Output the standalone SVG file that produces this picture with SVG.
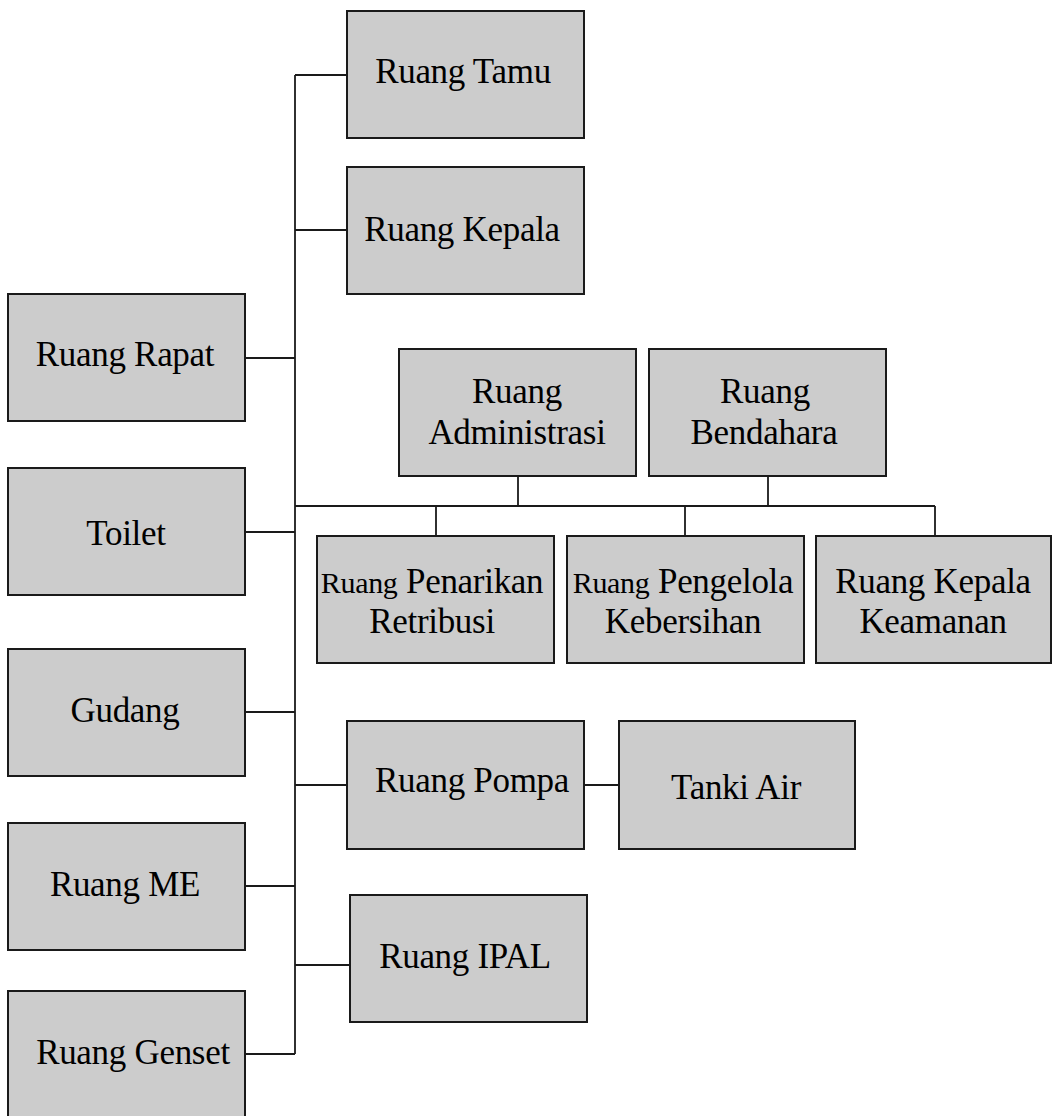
<svg xmlns="http://www.w3.org/2000/svg" width="1052" height="1116" viewBox="0 0 1052 1116">
  <style>
    .box { fill: #cccccc; stroke: #1a1a1a; stroke-width: 2; }
    .lbl { font-family: "Liberation Serif", "Times New Roman", serif; font-size: 35px; fill: #000; text-anchor: middle; letter-spacing: -0.3px; }
    .sm { font-size: 30px; }
    .wire { fill: none; stroke: #1a1a1a; stroke-width: 1.8; }
  </style>
  <rect width="1052" height="1116" fill="#ffffff"/>

  <!-- connectors -->
  <g id="connectors" class="wire">
    <path d="M295 75 V1054"/>
    <path d="M295 75 H347"/>
    <path d="M295 230 H347"/>
    <path d="M245 358 H295"/>
    <path d="M245 532 H295"/>
    <path d="M245 712 H295"/>
    <path d="M245 886 H295"/>
    <path d="M245 1054 H295"/>
    <path d="M295 785 H347"/>
    <path d="M295 965 H350"/>
    <path d="M584 785 H619"/>
    <path d="M295 506 H935"/>
    <path d="M518 476 V506"/>
    <path d="M768 476 V506"/>
    <path d="M436 506 V536"/>
    <path d="M685 506 V536"/>
    <path d="M935 506 V536"/>
  </g>

  <g id="ruang-tamu">
    <rect class="box" x="347" y="11" width="237" height="127"/>
    <text class="lbl" x="463" y="83">Ruang Tamu</text>
  </g>
  <g id="ruang-kepala">
    <rect class="box" x="347" y="167" width="237" height="127"/>
    <text class="lbl" x="462" y="241">Ruang Kepala</text>
  </g>
  <g id="ruang-rapat">
    <rect class="box" x="8" y="294" width="237" height="127"/>
    <text class="lbl" x="125" y="366">Ruang Rapat</text>
  </g>
  <g id="toilet">
    <rect class="box" x="8" y="468" width="237" height="127"/>
    <text class="lbl" x="126" y="545">Toilet</text>
  </g>
  <g id="gudang">
    <rect class="box" x="8" y="649" width="237" height="127"/>
    <text class="lbl" x="125" y="722">Gudang</text>
  </g>
  <g id="ruang-me">
    <rect class="box" x="8" y="823" width="237" height="127"/>
    <text class="lbl" x="125" y="896">Ruang ME</text>
  </g>
  <g id="ruang-genset">
    <rect class="box" x="8" y="991" width="237" height="135"/>
    <text class="lbl" x="133" y="1064">Ruang Genset</text>
  </g>
  <g id="ruang-administrasi">
    <rect class="box" x="399" y="349" width="237" height="127"/>
    <text class="lbl" x="517" y="403">Ruang</text>
    <text class="lbl" x="517" y="444">Administrasi</text>
  </g>
  <g id="ruang-bendahara">
    <rect class="box" x="649" y="349" width="237" height="127"/>
    <text class="lbl" x="765" y="403">Ruang</text>
    <text class="lbl" x="764" y="444">Bendahara</text>
  </g>
  <g id="ruang-penarikan-retribusi">
    <rect class="box" x="317" y="536" width="237" height="127"/>
    <text class="lbl" x="432" y="593"><tspan class="sm">Ruang</tspan> Penarikan</text>
    <text class="lbl" x="432" y="633">Retribusi</text>
  </g>
  <g id="ruang-pengelola-kebersihan">
    <rect class="box" x="567" y="536" width="237" height="127"/>
    <text class="lbl" x="683" y="593"><tspan class="sm">Ruang</tspan> Pengelola</text>
    <text class="lbl" x="683" y="633">Kebersihan</text>
  </g>
  <g id="ruang-kepala-keamanan">
    <rect class="box" x="816" y="536" width="235" height="127"/>
    <text class="lbl" x="933" y="593">Ruang Kepala</text>
    <text class="lbl" x="933" y="633">Keamanan</text>
  </g>
  <g id="ruang-pompa">
    <rect class="box" x="347" y="721" width="237" height="128"/>
    <text class="lbl" x="472" y="792">Ruang Pompa</text>
  </g>
  <g id="tanki-air">
    <rect class="box" x="619" y="721" width="236" height="128"/>
    <text class="lbl" x="736" y="799">Tanki Air</text>
  </g>
  <g id="ruang-ipal">
    <rect class="box" x="350" y="895" width="237" height="127"/>
    <text class="lbl" x="465" y="968">Ruang IPAL</text>
  </g>
</svg>
